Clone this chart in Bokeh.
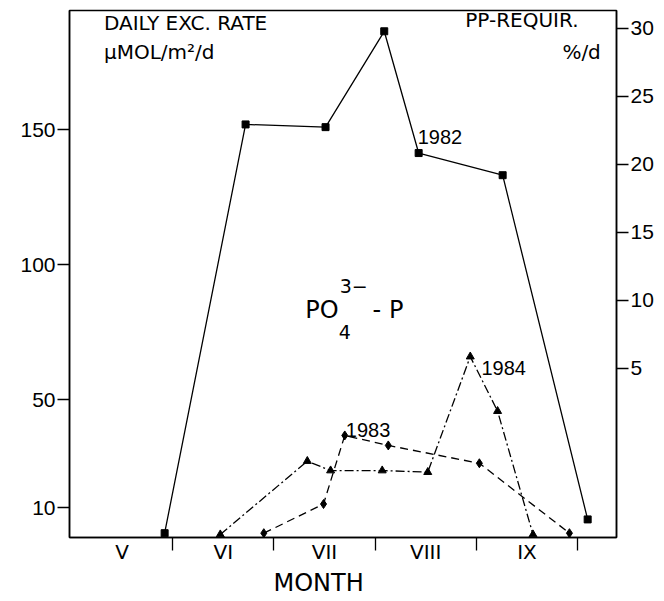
from bokeh.plotting import figure
from bokeh.models import Range1d, LinearAxis, FixedTicker, Label, Title
from bokeh.embed import file_html
from bokeh.resources import INLINE

# ---- data (month axis: 5 = start of May, 6 = start of June, ...) ----
month_bounds = [6, 7, 8, 9, 10]
month_centers = [5.5, 6.5, 7.5, 8.5, 9.5]
month_labels = ["V", "VI", "VII", "VIII", "IX"]

left_ticks = [10, 50, 100, 150]
right_ticks = [5, 10, 15, 20, 25, 30]

x1982 = [5.92, 6.72, 7.51, 8.09, 8.43, 9.26, 10.10]
y1982 = [0.5, 151.9, 150.9, 186.4, 141.3, 133.1, 5.6]

x1983 = [6.90, 7.49, 7.70, 8.13, 9.03, 9.92]
y1983 = [0.5, 11.3, 36.7, 33.0, 26.4, 0.5]

x1984 = [6.47, 7.33, 7.56, 8.07, 8.52, 8.94, 9.21, 9.56]
y1984 = [0.0, 27.2, 23.7, 23.7, 23.1, 65.9, 45.7, 0.0]

FONT = "Liberation Sans"
LFONT = "DejaVu Sans"

p = figure(width=664, height=600,
           x_range=Range1d(4.98, 10.385), y_range=Range1d(-1.1, 194.1),
           x_axis_type=None, y_axis_type=None,
           min_border_left=69, min_border_right=48, min_border_top=10, min_border_bottom=63,
           output_backend="svg", toolbar_location=None)
p.extra_y_ranges = {"r": Range1d(-7.43, 31.32)}
p.outline_line_color = "black"
p.outline_line_width = 1.5
p.background_fill_color = "white"
p.border_fill_color = "white"

def style_axis(ax):
    ax.axis_line_color = "black"
    ax.axis_line_width = 1.5
    ax.major_tick_line_color = "black"
    ax.major_tick_line_width = 1.3
    ax.major_tick_out = 12
    ax.major_tick_in = 0
    ax.minor_tick_line_color = None
    ax.major_label_text_font = FONT
    ax.major_label_text_font_size = "21px"
    ax.major_label_text_color = "black"
    ax.major_label_standoff = 2

left = LinearAxis(ticker=FixedTicker(ticks=left_ticks))
style_axis(left)
p.add_layout(left, "left")

right = LinearAxis(y_range_name="r", ticker=FixedTicker(ticks=right_ticks))
style_axis(right)
p.add_layout(right, "right")

bottom = LinearAxis(ticker=FixedTicker(ticks=month_centers, minor_ticks=month_bounds),
                    major_label_overrides={c: l for c, l in zip(month_centers, month_labels)})
bottom.axis_line_color = "black"
bottom.axis_line_width = 1.5
bottom.major_tick_out = 0
bottom.major_tick_in = 0
bottom.minor_tick_out = 13
bottom.minor_tick_in = 0
bottom.minor_tick_line_color = "black"
bottom.minor_tick_line_width = 1.3
bottom.major_label_text_font = LFONT
bottom.major_label_text_font_size = "20px"
bottom.major_label_text_color = "black"
bottom.major_label_standoff = -11
p.add_layout(bottom, "below")

month_title = Title(text="MONTH", align="left", offset=204, standoff=0,
                    text_font=LFONT, text_font_size="24px",
                    text_font_style="normal", text_color="black")
p.add_layout(month_title, "below")

# ---- series ----
p.line(x1982, y1982, line_color="black", line_width=1.3)
p.scatter(x1982, y1982, marker="square", size=7, color="black")

p.line(x1983, y1983, line_color="black", line_width=1.3, line_dash="8 5")
p.scatter(x1983, y1983, marker="diamond", size=9, color="black")

p.line(x1984, y1984, line_color="black", line_width=1.3, line_dash="9 3 2 3")
p.scatter(x1984, y1984, marker="triangle", size=8, color="black")

# ---- texts ----
def lab(x, y, t, size, font=FONT, align="left", base="alphabetic"):
    p.add_layout(Label(x=x, y=y, text=t, text_font=font, text_font_size=size,
                       text_align=align, text_baseline=base, text_color="black"))

lab(5.32, 189.4, "DAILY EXC. RATE", "20px", LFONT)
lab(5.32, 178.6, "μMOL/m²/d", "20px", LFONT)
lab(10.01, 190.6, "PP-REQUIR.", "20px", LFONT, "right")
lab(10.23, 178.6, "%/d", "20px", LFONT, "right")

lab(8.42, 147.1, "1982", "20px")
lab(7.71, 38.9, "1983", "20px")
lab(9.05, 61.5, "1984", "20px")

lab(7.31, 83.0, "PO", "24px", LFONT)
lab(7.65, 92.0, "3−", "19px", LFONT)
lab(7.64, 75.0, "4", "19px", LFONT)
lab(7.975, 83.0, "- P", "24px", LFONT)

open("out.html", "w").write(file_html(p, INLINE))
